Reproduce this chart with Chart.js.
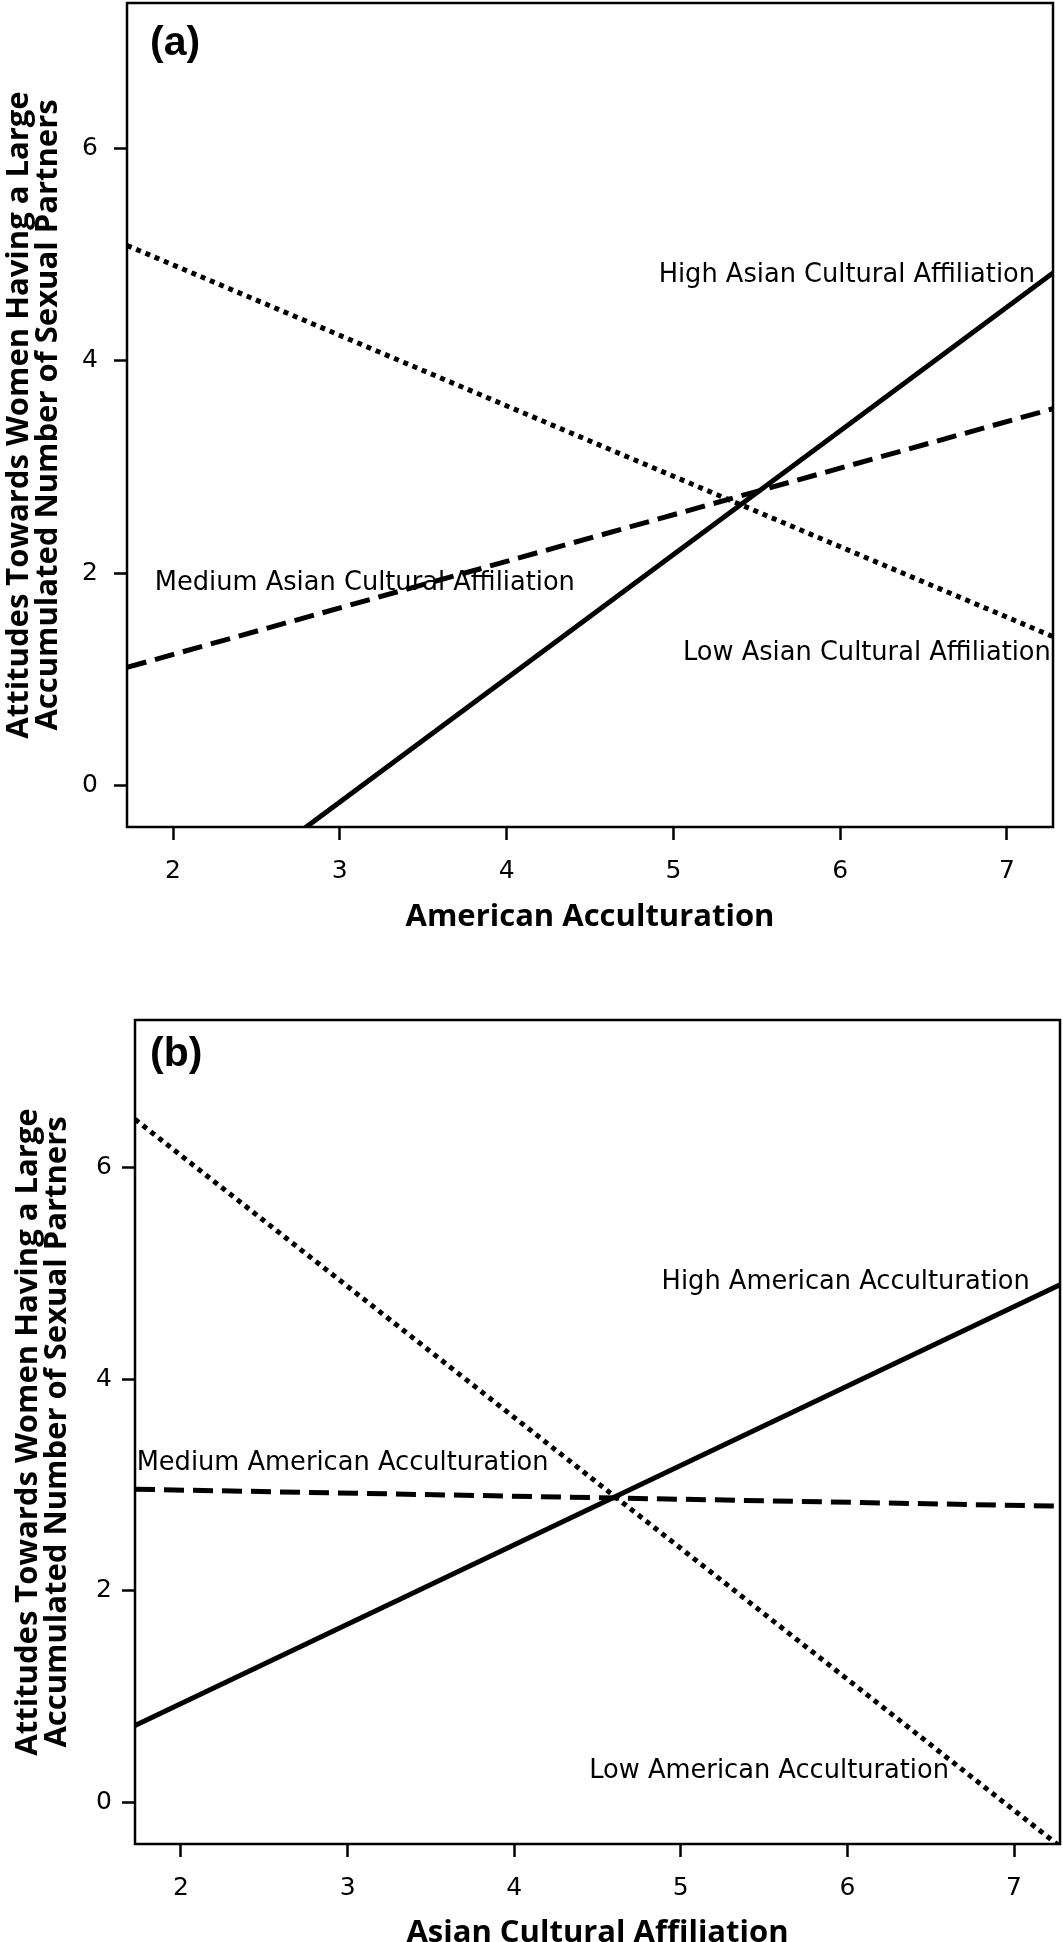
<!DOCTYPE html>
<html>
<head>
<meta charset="utf-8">
<script src="https://cdn.jsdelivr.net/npm/chart.js@4"></script>
<style>
  html, body { margin: 0; padding: 0; background: #fff; overflow: hidden; }
  canvas { position: absolute; left: 0; }
  #panelA { top: 0; }
  #panelB { top: 960px; }
</style>
</head>
<body>
<canvas id="panelA" width="1063" height="960"></canvas>
<canvas id="panelB" width="1063" height="1000"></canvas>
<script>
const xTicks = [2, 3, 4, 5, 6, 7];
const yTicks = [0, 2, 4, 6];
const yTitle = ['Attitudes Towards Women Having a Large', 'Accumulated Number of Sexual Partners'];

// panel (a): lines read at the left and right edge of the plot
const acculturationEnds = [1.724, 7.276];
const highAsian = [-1.65, 4.83];
const mediumAsian = [1.11, 3.55];
const lowAsian = [5.09, 1.40];

// panel (b)
const affiliationEnds = [1.724, 7.276];
const highAmerican = [0.73, 4.89];
const mediumAmerican = [2.96, 2.80];
const lowAmerican = [6.45, -0.41];

const notesA = [
  {text: 'High Asian Cultural Affiliation', x: 6.04, y: 4.81},
  {text: 'Medium Asian Cultural Affiliation', x: 3.15, y: 1.90},
  {text: 'Low Asian Cultural Affiliation', x: 6.16, y: 1.245}
];
const notesB = [
  {text: 'High American Acculturation', x: 5.99, y: 4.91},
  {text: 'Medium American Acculturation', x: 2.97, y: 3.20},
  {text: 'Low American Acculturation', x: 5.53, y: 0.30}
];

const pts = (xs, ys) => xs.map((x, i) => ({x: x, y: ys[i]}));

const framePlugin = {
  id: 'frame',
  afterDraw(chart, args, opts) {
    const {ctx, chartArea: a, scales: {x, y}} = chart;
    ctx.save();
    ctx.lineWidth = 2.5;
    ctx.strokeStyle = '#000';
    ctx.strokeRect(a.left, a.top, a.right - a.left, a.bottom - a.top);
    ctx.fillStyle = '#000';
    ctx.font = '25.7px "DejaVu Sans"';
    ctx.textAlign = 'center';
    ctx.textBaseline = 'middle';
    opts.notes.forEach(n => ctx.fillText(n.text, x.getPixelForValue(n.x), y.getPixelForValue(n.y)));
    ctx.font = 'bold 41px "Liberation Sans"';
    ctx.textAlign = 'left';
    ctx.fillText(opts.letter, opts.letterX, opts.letterY);
    ctx.restore();
  }
};

function line(data, dash) {
  return {
    data: data,
    borderColor: '#000',
    borderWidth: 5,
    borderDash: dash,
    borderCapStyle: 'butt',
    pointRadius: 0,
    tension: 0,
    clip: 0
  };
}

function makePanel(id, p) {
  new Chart(document.getElementById(id), {
    type: 'line',
    data: {
      datasets: [
        line(pts(p.xs, p.low), [5, 5]),
        line(pts(p.xs, p.medium), [20, 9]),
        line(pts(p.xs, p.high), [])
      ]
    },
    options: {
      responsive: false,
      animation: false,
      layout: {padding: {top: p.top, right: p.right, left: 0, bottom: 0}},
      plugins: {
        legend: {display: false},
        tooltip: {enabled: false},
        frame: {notes: p.notes, letter: p.letter, letterX: p.letterX, letterY: p.letterY}
      },
      scales: {
        x: {
          type: 'linear',
          min: p.xs[0],
          max: p.xs[1],
          afterBuildTicks: s => { s.ticks = xTicks.map(v => ({value: v})); },
          afterFit: s => { s.height = p.xHeight; s.paddingLeft = 0; s.paddingRight = 0; },
          grid: {drawOnChartArea: false, tickLength: 13, tickWidth: 2.5, tickColor: '#000'},
          border: {display: false},
          ticks: {color: '#000', padding: 16, font: {family: 'DejaVu Sans', size: 25}},
          title: {
            display: true, text: p.xTitle, color: '#000',
            font: {family: 'Open Sans', size: 31, weight: 'bold', lineHeight: 1.2},
            padding: {top: 0, bottom: p.xTitlePad}
          }
        },
        y: {
          type: 'linear',
          min: p.yMin,
          max: p.yMax,
          afterBuildTicks: s => { s.ticks = yTicks.map(v => ({value: v})); },
          afterFit: s => { s.width = p.yWidth; s.paddingTop = 0; s.paddingBottom = 0; },
          grid: {drawOnChartArea: false, tickLength: 13, tickWidth: 2.5, tickColor: '#000'},
          border: {display: false},
          ticks: {color: '#000', padding: p.yTickPad, font: {family: 'DejaVu Sans', size: 25}},
          title: {
            display: true, text: yTitle, color: '#000',
            font: {family: 'Open Sans', size: 31, weight: 'bold', lineHeight: 0.95},
            padding: {top: p.yTitlePad, bottom: 0}
          }
        }
      }
    },
    plugins: [framePlugin]
  });
}

makePanel('panelA', {
  xs: acculturationEnds, high: highAsian, medium: mediumAsian, low: lowAsian,
  notes: notesA, letter: '(a)', letterX: 150, letterY: 44,
  xTitle: 'American Acculturation',
  top: 3, right: 10, yWidth: 127, xHeight: 133, xTitlePad: 24.5,
  yMin: -0.396, yMax: 7.377, yTickPad: 16, yTitlePad: 4
});

makePanel('panelB', {
  xs: affiliationEnds, high: highAmerican, medium: mediumAmerican, low: lowAmerican,
  notes: notesB, letter: '(b)', letterX: 150, letterY: 95,
  xTitle: 'Asian Cultural Affiliation',
  top: 60, right: 3, yWidth: 135, xHeight: 116, xTitlePad: 8.5,
  yMin: -0.387, yMax: 7.387, yTickPad: 10, yTitlePad: 13
});
</script>
</body>
</html>
